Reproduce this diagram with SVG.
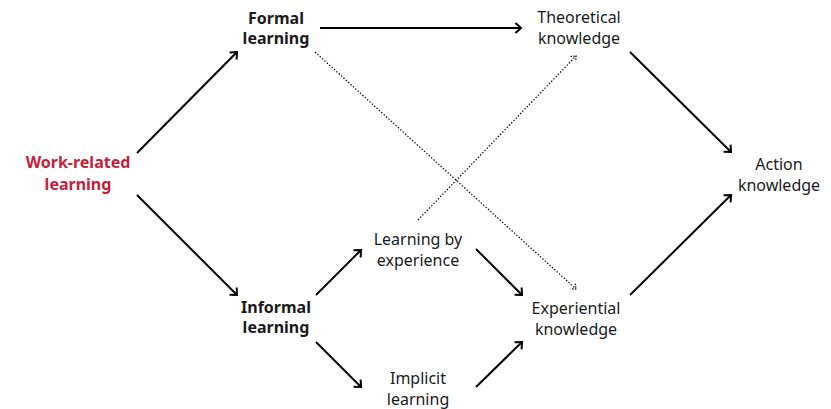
<svg xmlns="http://www.w3.org/2000/svg" width="831" height="409" viewBox="0 0 831 409">
  <style>
    .lbl { font-family: "Noto Sans", "Open Sans", sans-serif; font-size: 16px; fill: #1a1a1a; text-anchor: middle; }
    .b { font-weight: bold; }
    .red { fill: #c41e3a; }
    .solid { stroke: #000; stroke-width: 2; fill: none; }
    .dot { stroke: #000; stroke-width: 1.2; stroke-dasharray: 1.4 1.8; fill: none; }
  </style>
  <defs>
    <marker id="head" markerUnits="userSpaceOnUse" viewBox="-8 -8 10 16" refX="0" refY="0" markerWidth="10" markerHeight="16" orient="auto">
      <path d="M-5.5,-5 L0,0 L-5.5,5" fill="none" stroke="#000" stroke-width="2"/>
    </marker>
    <marker id="headDot" markerUnits="userSpaceOnUse" viewBox="-8 -8 10 16" refX="0" refY="0" markerWidth="10" markerHeight="16" orient="auto">
      <path d="M-4,-3.5 L0,0 L-4,3.5" fill="none" stroke="#000" stroke-width="1.2" stroke-dasharray="1.4 1.2"/>
    </marker>
  </defs>
  <rect width="831" height="409" fill="#fff"/>

  <g id="connectors">
    <line class="solid" x1="137" y1="153" x2="237" y2="52" marker-end="url(#head)"/>
    <line class="solid" x1="137" y1="195" x2="237" y2="295" marker-end="url(#head)"/>
    <line class="solid" x1="320" y1="28" x2="521" y2="28" marker-end="url(#head)"/>
    <line class="dot" x1="315" y1="52" x2="576" y2="289" marker-end="url(#headDot)"/>
    <line class="dot" x1="418" y1="220" x2="576" y2="56" marker-end="url(#headDot)"/>
    <line class="solid" x1="630" y1="52" x2="731" y2="152" marker-end="url(#head)"/>
    <line class="solid" x1="630" y1="295" x2="731" y2="195" marker-end="url(#head)"/>
    <line class="solid" x1="316" y1="295" x2="361" y2="250" marker-end="url(#head)"/>
    <line class="solid" x1="316" y1="342" x2="361" y2="387" marker-end="url(#head)"/>
    <line class="solid" x1="476" y1="249" x2="522" y2="295" marker-end="url(#head)"/>
    <line class="solid" x1="476" y1="387" x2="522" y2="342" marker-end="url(#head)"/>
  </g>

  <g id="work-related-learning">
    <text class="lbl b red" x="78" y="168">Work-related</text>
    <text class="lbl b red" x="78" y="190">learning</text>
  </g>
  <g id="formal-learning">
    <text class="lbl b" x="276" y="24">Formal</text>
    <text class="lbl b" x="276" y="44">learning</text>
  </g>
  <g id="informal-learning">
    <text class="lbl b" x="276" y="313">Informal</text>
    <text class="lbl b" x="276" y="333">learning</text>
  </g>
  <g id="theoretical-knowledge">
    <text class="lbl" x="579" y="23">Theoretical</text>
    <text class="lbl" x="579" y="44">knowledge</text>
  </g>
  <g id="learning-by-experience">
    <text class="lbl" x="418" y="245">Learning by</text>
    <text class="lbl" x="418" y="266">experience</text>
  </g>
  <g id="implicit-learning">
    <text class="lbl" x="418" y="384">Implicit</text>
    <text class="lbl" x="418" y="405">learning</text>
  </g>
  <g id="experiential-knowledge">
    <text class="lbl" x="576" y="314">Experiential</text>
    <text class="lbl" x="576" y="335">knowledge</text>
  </g>
  <g id="action-knowledge">
    <text class="lbl" x="779" y="170">Action</text>
    <text class="lbl" x="779" y="191">knowledge</text>
  </g>
</svg>
